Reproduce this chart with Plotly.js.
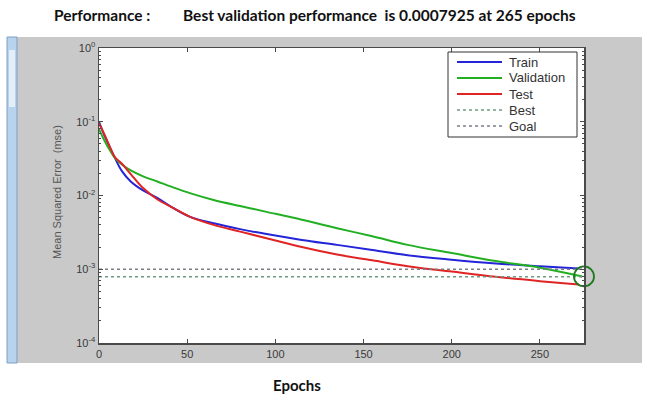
<!DOCTYPE html>
<html>
<head>
<meta charset="utf-8">
<script src="https://cdn.plot.ly/plotly-3.0.1.min.js"></script>
<style>html,body{margin:0;padding:0;background:#fff;}#chart{width:645px;height:400px;}</style>
</head>
<body>
<div id="chart"></div>
<script>
// ---- data ----
const trainEpochs = [0, 3, 6, 9, 13, 18, 25, 33, 42, 52, 65, 80, 95, 115, 135, 155, 175, 200, 225, 250, 272];
const trainMSE = [0.100, 0.066, 0.0457, 0.0324, 0.0214, 0.0155, 0.0117, 0.0093, 0.0068, 0.0051, 0.0042, 0.0035, 0.0030, 0.0025, 0.00214, 0.00182, 0.00155, 0.00135, 0.0012, 0.0011, 0.00102];

const valEpochs = [0, 3, 6, 9, 13, 18, 25, 33, 42, 52, 65, 80, 95, 115, 135, 155, 175, 200, 225, 250, 274];
const valMSE = [0.0794, 0.0562, 0.0417, 0.0324, 0.0263, 0.0219, 0.0182, 0.0155, 0.0129, 0.0107, 0.0087, 0.0072, 0.0060, 0.0047, 0.0036, 0.0028, 0.00214, 0.00166, 0.00129, 0.00105, 0.00080];

const testEpochs = [0, 3, 6, 9, 13, 18, 25, 33, 42, 52, 65, 80, 95, 115, 135, 155, 175, 200, 225, 250, 272];
const testMSE = [0.0955, 0.0676, 0.0468, 0.0331, 0.0269, 0.0195, 0.0126, 0.0089, 0.0068, 0.0051, 0.0040, 0.00324, 0.00263, 0.0020, 0.00158, 0.00132, 0.0011, 0.00093, 0.00079, 0.00069, 0.00062];

const refLineEpochs = [0, 275];
const bestValue = 0.0007925;
const goalValue = 0.001;
const bestMarkEpoch = [275];
const bestMarkValue = [0.0008];

const xTicks = [0, 50, 100, 150, 200, 250];
const yDecades = [-4, -3, -2, -1, 0];

const legendNames = ['Train', 'Validation', 'Test', 'Best', 'Goal'];
const seriesColors = ['#2424d8', '#22b022', '#e02424', '#6f9a82', '#7a7f86'];
const seriesDash = ['solid', 'solid', 'solid', 'dot', 'dot'];

const titleLeft = 'Performance :';
const titleRight = 'Best validation performance\u00a0 is 0.0007925 at 265 epochs';
const xLabel = 'Epochs';
const yLabel = 'Mean Squared Error\u00a0 (mse)';

// ---- build ticks ----
const yTickVals = yDecades.map(d => Math.pow(10, d));
const yTickText = yDecades.map(d => '10<sup>' + d + '</sup>');
const yMinor = [];
yDecades.slice(0, -1).forEach(d => { for (let k = 2; k <= 9; k++) yMinor.push(k * Math.pow(10, d)); });

const tickFont = {family: 'Liberation Sans, Arial, sans-serif', size: 11, color: '#3a3a3a'};

const traces = [
  {x: trainEpochs, y: trainMSE, name: legendNames[0], mode: 'lines', line: {color: seriesColors[0], width: 2, shape: 'spline'}},
  {x: valEpochs, y: valMSE, name: legendNames[1], mode: 'lines', line: {color: seriesColors[1], width: 2, shape: 'spline'}},
  {x: testEpochs, y: testMSE, name: legendNames[2], mode: 'lines', line: {color: seriesColors[2], width: 2, shape: 'spline'}},
  {x: refLineEpochs, y: refLineEpochs.map(() => bestValue), name: legendNames[3], mode: 'lines', line: {color: seriesColors[3], width: 1.5, dash: 'dot'}},
  {x: refLineEpochs, y: refLineEpochs.map(() => goalValue), name: legendNames[4], mode: 'lines', line: {color: seriesColors[4], width: 1.5, dash: 'dot'}},
  {x: bestMarkEpoch, y: bestMarkValue, mode: 'markers', cliponaxis: false,
   marker: {symbol: 'circle-open', size: 20, color: '#1f7a1f', line: {width: 1.8, color: '#1f7a1f'}}}
];

const W = 485, H = 295; // plot area size
const px = p => (p - 99) / W;
const py = p => (343 - p) / H;

const shapes = [
  {type: 'rect', xref: 'paper', yref: 'paper', x0: px(17), x1: px(642), y0: py(363), y1: py(37), fillcolor: '#c9c9c9', line: {width: 0}, layer: 'below'},
  {type: 'rect', xref: 'paper', yref: 'paper', x0: px(7), x1: px(17), y0: py(363), y1: py(37), fillcolor: '#b7d3ee', line: {width: 1, color: '#7d9fc4'}, layer: 'below'},
  {type: 'rect', xref: 'paper', yref: 'paper', x0: px(9), x1: px(15), y0: py(107), y1: py(50), fillcolor: '#e4eef8', line: {width: 0}, layer: 'below'},
  {type: 'rect', xref: 'paper', yref: 'paper', x0: 0, x1: 1, y0: 0, y1: 1, fillcolor: '#ffffff', line: {width: 0}, layer: 'below'},
  // legend box
  {type: 'rect', xref: 'paper', yref: 'paper', x0: px(448), x1: px(577), y0: py(137), y1: py(52), fillcolor: '#ffffff', line: {width: 1, color: '#333333'}, layer: 'above'}
];
const annotations = [
  {text: '<b>' + titleLeft + '</b>', xref: 'paper', yref: 'paper', x: px(52), y: py(15), xanchor: 'left', yanchor: 'middle', showarrow: false,
   font: {family: 'Lato, sans-serif', size: 15.5, color: '#111'}},
  {text: '<b>' + titleRight + '</b>', xref: 'paper', yref: 'paper', x: px(181), y: py(15), xanchor: 'left', yanchor: 'middle', showarrow: false,
   font: {family: 'Lato, sans-serif', size: 15.5, color: '#111'}},
  {text: '<b>' + xLabel + '</b>', xref: 'paper', yref: 'paper', x: px(297), y: py(385), xanchor: 'center', yanchor: 'middle', showarrow: false,
   font: {family: 'Lato, sans-serif', size: 15, color: '#111'}},
  {text: yLabel, xref: 'paper', yref: 'paper', x: px(57), y: py(192), xanchor: 'center', yanchor: 'middle', showarrow: false, textangle: -90,
   font: {family: 'Liberation Sans, Arial, sans-serif', size: 11, color: '#555'}}
];
// custom legend (rows 16px apart)
legendNames.forEach((name, i) => {
  const rowY = 62 + i * 16;
  shapes.push({type: 'line', xref: 'paper', yref: 'paper', x0: px(457), x1: px(502), y0: py(rowY), y1: py(rowY),
    line: {color: seriesColors[i], width: seriesDash[i] === 'dot' ? 1.5 : 2, dash: seriesDash[i]}, layer: 'above'});
  annotations.push({text: name, xref: 'paper', yref: 'paper', x: px(507), y: py(rowY), xanchor: 'left', yanchor: 'middle', showarrow: false,
    font: {family: 'Liberation Sans, Arial, sans-serif', size: 13, color: '#333333'}});
});

const layout = {
  width: 645, height: 400, autosize: false,
  margin: {l: 99, r: 61, t: 48, b: 57},
  paper_bgcolor: '#ffffff', plot_bgcolor: '#ffffff',
  showlegend: false,
  xaxis: {
    range: [0, 275], tickmode: 'array', tickvals: xTicks,
    ticks: 'inside', ticklen: 4, tickwidth: 1, tickcolor: '#4a4a4a',
    showline: true, linecolor: '#4a4a4a', linewidth: 1.5, mirror: 'ticks',
    showgrid: false, zeroline: false, tickfont: tickFont
  },
  yaxis: {
    type: 'log', range: [-4, 0], tickmode: 'array', tickvals: yTickVals, ticktext: yTickText,
    ticks: 'inside', ticklen: 4, tickwidth: 1, tickcolor: '#4a4a4a',
    minor: {tickmode: 'array', tickvals: yMinor, ticks: 'inside', ticklen: 2, tickcolor: '#4a4a4a', showgrid: false},
    showline: true, linecolor: '#4a4a4a', linewidth: 1.5, mirror: 'ticks',
    showgrid: false, zeroline: false, tickfont: tickFont
  },
  shapes: shapes,
  annotations: annotations
};

Plotly.newPlot('chart', traces, layout, {displayModeBar: false, staticPlot: true});
</script>
</body>
</html>
